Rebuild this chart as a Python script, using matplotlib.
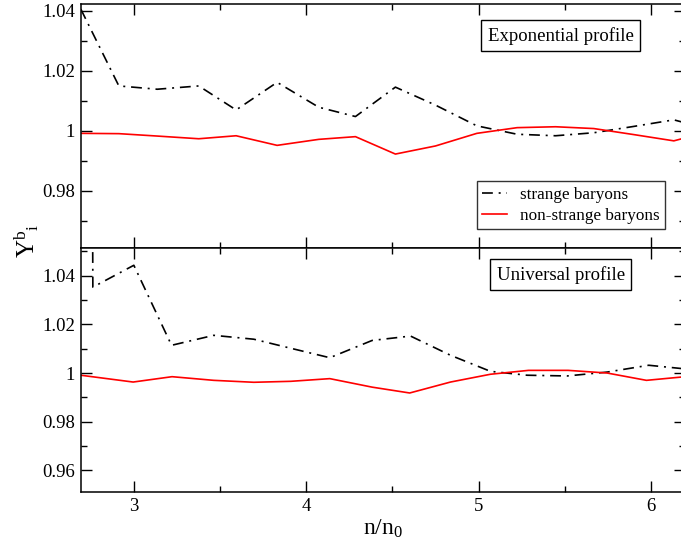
import matplotlib
matplotlib.use("Agg")
import matplotlib.pyplot as plt
from matplotlib.ticker import MultipleLocator, FuncFormatter

plt.rcParams["font.family"] = ["Liberation Serif", "DejaVu Serif"]
plt.rcParams["mathtext.fontset"] = "custom"
plt.rcParams["mathtext.rm"] = "Liberation Serif"
plt.rcParams["mathtext.it"] = "Liberation Serif"

# exponential profile
exp_x_strange = [2.69, 2.911, 3.134, 3.375, 3.592, 3.830, 4.072, 4.285, 4.517,
                 4.75, 4.99, 5.224, 5.447, 5.669, 5.90, 6.134, 6.2]
exp_y_strange = [1.0405, 1.0149, 1.0138, 1.0149, 1.0069, 1.0161, 1.0078, 1.0047, 1.0145,
                 1.0085, 1.0016, 0.9988, 0.9983, 0.9993, 1.0014, 1.0036, 1.0026]
exp_x_nonstrange = [2.69, 2.911, 3.134, 3.375, 3.592, 3.830, 4.072, 4.285, 4.517,
                    4.75, 4.99, 5.224, 5.447, 5.669, 5.90, 6.134, 6.2]
exp_y_nonstrange = [0.9991, 0.9990, 0.9982, 0.9973, 0.9983, 0.9951, 0.9971, 0.9980, 0.9922,
                    0.9949, 0.9991, 1.0010, 1.0013, 1.0007, 0.9987, 0.9966, 0.9976]

# universal profile
uni_x_strange = [2.757, 2.76, 2.998, 3.217, 3.462, 3.695, 3.92, 4.136, 4.382, 4.605,
                 4.837, 5.069, 5.282, 5.514, 5.747, 5.988, 6.2]
uni_y_strange = [1.09, 1.0353, 1.0443, 1.0114, 1.0155, 1.0139, 1.0100, 1.0063, 1.0134, 1.0152,
                 1.0073, 1.0007, 0.9991, 0.9988, 1.0004, 1.0032, 1.0017]
uni_x_nonstrange = [2.69, 2.994, 3.22, 3.462, 3.695, 3.91, 4.136, 4.382, 4.6,
                    4.837, 5.069, 5.29, 5.52, 5.747, 5.975, 6.2]
uni_y_nonstrange = [0.9991, 0.9963, 0.9985, 0.9970, 0.9962, 0.9966, 0.9977, 0.9942, 0.9918,
                    0.9963, 0.9995, 1.0011, 1.0011, 1.0000, 0.9970, 0.9985]

labels = ["strange baryons", "non-strange baryons"]
dashdot = (0, (6.5, 3.5, 1.2, 3.5))

fig = plt.figure(figsize=(6.81, 5.45), dpi=100)
W, H = 681.0, 545.0
left, right = 80.8, 685.2
ax_top = fig.add_axes([left / W, (H - 248) / H, (right - left) / W, 244 / H])
ax_bot = fig.add_axes([left / W, (H - 492) / H, (right - left) / W, 244 / H])

ax_top.plot(exp_x_strange, exp_y_strange, color="black", lw=1.2, ls=dashdot, label=labels[0])
ax_top.plot(exp_x_nonstrange, exp_y_nonstrange, color="red", lw=1.2, label=labels[1])
ax_bot.plot(uni_x_strange, uni_y_strange, color="black", lw=1.2, ls=dashdot)
ax_bot.plot(uni_x_nonstrange, uni_y_nonstrange, color="red", lw=1.2)

ax_top.set_ylim(0.9609, 1.0422)
ax_bot.set_ylim(0.9511, 1.0514)
for ax in (ax_top, ax_bot):
    ax.set_xlim(2.69, 6.2)
    ax.xaxis.set_major_locator(MultipleLocator(1))
    ax.xaxis.set_minor_locator(MultipleLocator(0.5))
    ax.yaxis.set_major_locator(MultipleLocator(0.02))
    ax.yaxis.set_minor_locator(MultipleLocator(0.01))
    ax.tick_params(which="both", direction="in", top=True, right=True, width=1.0)
    ax.tick_params(which="major", length=8)
    ax.tick_params(which="minor", length=4.5)
    ax.tick_params(axis="both", labelsize=13.5, pad=4)
    for sp in ax.spines.values():
        sp.set_linewidth(1.1)
    ax.yaxis.set_major_formatter(FuncFormatter(lambda v, p: f"{v:.2f}".rstrip("0").rstrip(".")))

ax_top.tick_params(labelbottom=False)

box = dict(boxstyle="square,pad=0.35", fc="white", ec="black", lw=1.0)
ax_top.text(0.7937, 0.8697, "Exponential profile", transform=ax_top.transAxes,
            ha="center", va="center", fontsize=13.5, bbox=box)
ax_bot.text(0.7942, 0.8906, "Universal profile", transform=ax_bot.transAxes,
            ha="center", va="center", fontsize=13.5, bbox=box)

leg = ax_top.legend(loc="upper left", bbox_to_anchor=(0.655, 0.2746), borderaxespad=0,
                    fontsize=12.3, frameon=True, fancybox=False, handlelength=1.45,
                    handletextpad=0.75, borderpad=0.33, labelspacing=0.3)
leg.get_frame().set_edgecolor("black")
leg.get_frame().set_linewidth(1.0)

fig.text(27 / W, (H - 241) / H, r"$\mathrm{Y}^{\mathrm{b}}{}_{\mathrm{i}}$", rotation=90,
         ha="center", va="center", fontsize=18)
fig.text(383 / W, (H - 529) / H, r"$\mathrm{n/n}_{\mathrm{0}}$", ha="center", va="center",
         fontsize=17)

fig.savefig("out.png", dpi=100, facecolor="white")
